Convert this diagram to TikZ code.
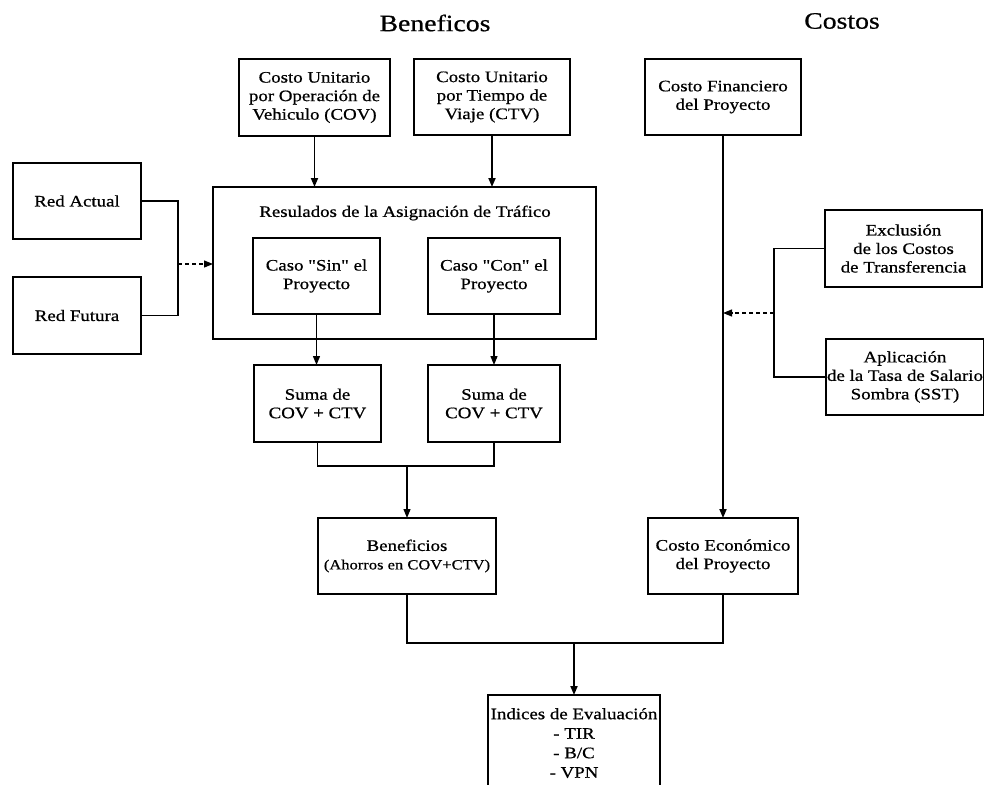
\documentclass[tikz,border=0pt]{standalone}
\usepackage{fontspec}
\setmainfont{Liberation Serif}[FakeStretch=1.18, FakeBold=0.7]
\newfontfamily\qfont{Liberation Serif}[FakeStretch=1.18, FakeBold=0.7]
\usetikzlibrary{arrows.meta}
\newcommand{\qq}{{\qfont"}}
\begin{document}
\begin{tikzpicture}[x=1pt,y=-1pt,
  box/.style={draw, line width=1.2pt, inner sep=0pt, outer sep=0pt, align=center, font=\fontsize{16}{18.5}\selectfont},
  arr/.style={line width=1.8pt, -{Triangle[length=9pt,width=7pt]}},
  arrthin/.style={line width=1.2pt, -{Triangle[length=9pt,width=7pt]}},
  link/.style={line width=1.2pt},
  dasharr/.style={line width=1.2pt, dash pattern=on 4pt off 3pt, -{Triangle[length=9pt,width=7pt]}},
  head/.style={font=\fontsize{23.5}{26}\selectfont},
  plain/.style={font=\fontsize{16}{18.5}\selectfont}]
\useasboundingbox (0,0) rectangle (984,784);
\clip (0,0) rectangle (984,784);
\fill[white] (0,0) rectangle (984,784);

\node[head] (hBen) at (435,23) {Beneficos};
\node[head] (hCos) at (842,21) {Costos};

\node[box, minimum width=151, minimum height=77] (cov) at (314.5,97.5) {Costo Unitario\\por Operación de\\Vehiculo (COV)};
\node[box, minimum width=156, minimum height=76] (ctv) at (492,97) {Costo Unitario\\por Tiempo de\\Viaje (CTV)};
\node[box, minimum width=156, minimum height=76] (cfin) at (723,97) {Costo Financiero\\del Proyecto};
\node[box, minimum width=128, minimum height=76] (reda) at (77,201) {Red Actual};
\node[box, minimum width=128, minimum height=77] (redf) at (77,315.5) {Red Futura};
\node[box, minimum width=383, minimum height=152] (big) at (404.5,263) {};
\node[plain] (bigt) at (405,213) {Resulados de la Asignación de Tráfico};
\node[box, minimum width=127, minimum height=76] (sin) at (316.5,276) {Caso \qq Sin\qq{} el\\Proyecto};
\node[box, minimum width=132, minimum height=76] (con) at (494,276) {Caso \qq Con\qq{} el\\Proyecto};
\node[box, minimum width=127, minimum height=77] (s1) at (317.5,403.5) {Suma de\\COV + CTV};
\node[box, minimum width=132, minimum height=77] (s2) at (494,403.5) {Suma de\\COV + CTV};
\node[box, minimum width=157, minimum height=77] (excl) at (903.5,248.5) {Exclusión\\de los Costos\\de Transferencia};
\node[box, minimum width=158, minimum height=76] (apl) at (905,377) {Aplicación\\de la Tasa de Salario\\Sombra (SST)};
\node[box, minimum width=178, minimum height=76] (ben) at (407,556) {Beneficios\\{\fontsize{14}{18}\selectfont (Ahorros en COV+CTV)}};
\node[box, minimum width=150, minimum height=76] (ecn) at (723,556) {Costo Económico\\del Proyecto};
\node[box, anchor=north, minimum width=172, minimum height=96, font=\fontsize{16}{19.5}\selectfont] (ind) at (574,695) {Indices de Evaluación\\- TIR\\- B/C\\- VPN};

\draw[arr] (cov.south) -- (cov.south |- big.north);
\draw[arr] (ctv.south) -- (ctv.south |- big.north);
\coordinate (j) at (178,264);
\draw[link] (reda.east) -| (j) |- (redf.east);
\draw[dasharr] (j) -- (j -| big.west);
\draw[arrthin] (sin.south) -- (sin.south |- s1.north);
\draw[arrthin] (con.south) -- (con.south |- s2.north);
\coordinate (m1) at (407,466);
\draw[link] (s1.south) |- (m1) -| (s2.south);
\draw[arrthin] (m1) -- (ben.north);
\draw[arr] (cfin.south) -- (ecn.north);
\coordinate (b) at (774,313);
\draw[link] (excl.west) -| (b) |- (apl.west);
\draw[dasharr] (b) -- (b -| cfin.south);
\coordinate (m2) at (574,643);
\draw[link] (ben.south) |- (m2) -| (ecn.south);
\draw[arr] (m2) -- (ind.north);
\end{tikzpicture}
\end{document}
